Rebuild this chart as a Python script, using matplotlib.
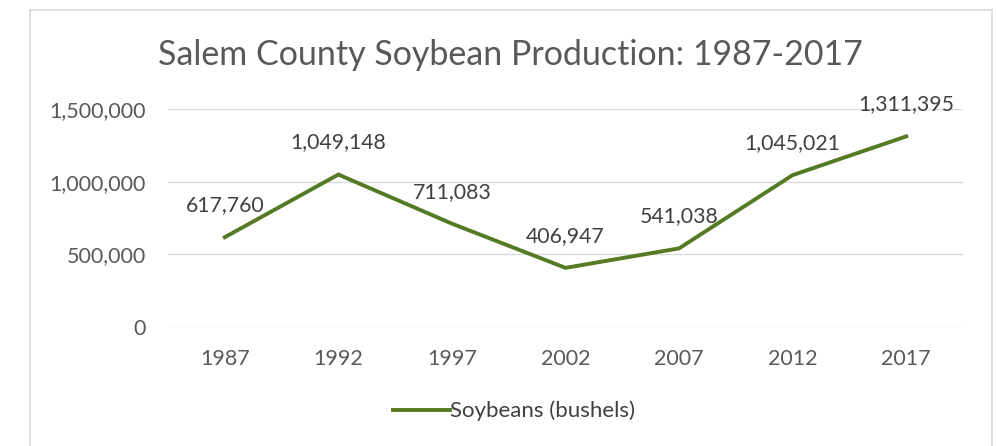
import matplotlib.pyplot as plt
from matplotlib.lines import Line2D

plt.rcParams['font.family'] = ['Lato', 'DejaVu Sans']

years = ['1987', '1992', '1997', '2002', '2007', '2012', '2017']
bushels = [617760, 1049148, 711083, 406947, 541038, 1045021, 1311395]
yticks = [0, 500000, 1000000, 1500000]

line_color = '#557a24'
grid_color = '#d9d9d9'
text_color = '#595959'

fig = plt.figure(figsize=(9.97, 4.46), dpi=100)
ax = fig.add_axes([168 / 997, 1 - 327 / 446, (963 - 168) / 997, (327 - 109) / 446])

x = list(range(len(years)))
ax.plot(x, bushels, color=line_color, linewidth=2.8, solid_joinstyle='miter')

for xi, v in zip(x, bushels):
    ax.annotate(f'{v:,}', (xi, v), xytext=(0, 23), textcoords='offset points',
                ha='center', va='center', fontsize=15.3, color='#404040')

ax.set_xlim(-0.5, len(years) - 0.5)
ax.set_ylim(0, 1500000)
ax.set_yticks(yticks)
ax.set_yticklabels([f'{t:,}' for t in yticks])
ax.set_xticks(x)
ax.set_xticklabels(years)
ax.tick_params(length=0, labelsize=15.5, labelcolor=text_color)
ax.tick_params(axis='y', pad=16)
ax.tick_params(axis='x', pad=16)
ax.grid(axis='y', color=grid_color, linewidth=1)
ax.set_axisbelow(True)
for s in ax.spines.values():
    s.set_visible(False)

fig.text(510 / 997, 1 - 55 / 446, 'Salem County Soybean Production: 1987-2017',
         ha='center', va='center', fontsize=24.5, color=text_color)

handle = Line2D([], [], color=line_color, linewidth=2.8)
fig.legend([handle], ['Soybeans (bushels)'], loc='center', bbox_to_anchor=(514 / 997, 1 - 411 / 446),
           frameon=False, fontsize=16, handlelength=2.6, handletextpad=0.0, labelcolor='#404040')

# chart border
border = dict(color='#d9d9d9', linewidth=1.2, transform=fig.transFigure)
fig.add_artist(Line2D([30 / 997, 992 / 997], [1 - 10 / 446, 1 - 10 / 446], **border))
fig.add_artist(Line2D([30 / 997, 30 / 997], [0, 1 - 10 / 446], **border))
fig.add_artist(Line2D([992 / 997, 992 / 997], [0, 1 - 10 / 446], **border))

fig.savefig('out.png', dpi=100, facecolor='white')
